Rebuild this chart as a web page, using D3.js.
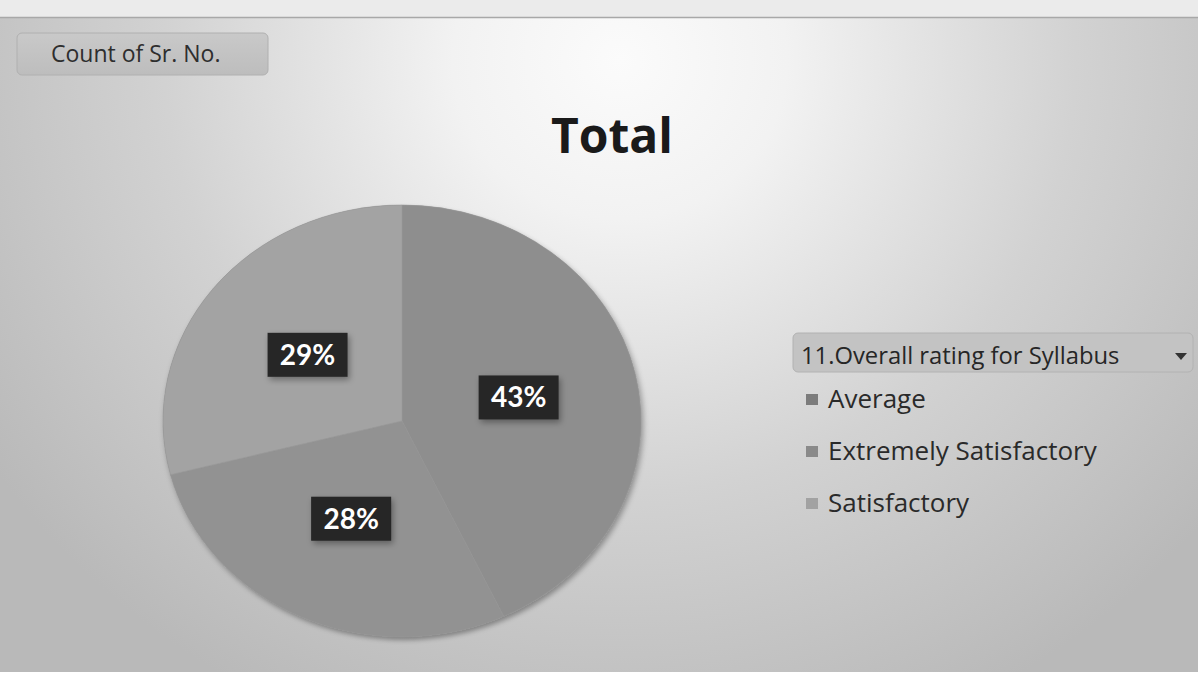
<!DOCTYPE html>
<html><head><meta charset="utf-8">
<script src="https://cdn.jsdelivr.net/npm/d3@7/dist/d3.min.js"></script>
<style>html,body{margin:0;padding:0;background:#fff;}svg{display:block;}</style>
</head><body>
<svg id="c" width="1198" height="682"></svg>
<script>
const categories = ["Average", "Extremely Satisfactory", "Satisfactory"];
const values = [43, 28, 29];
const sliceColors = ["#8e8e8e", "#929292", "#a3a3a3"];
const legendColors = ["#7c7c7c", "#8a8a8a", "#a2a2a2"];
const titleText = "Total";
const fieldButton = "Count of Sr. No.";
const legendTitle = "11.Overall rating for Syllabus";

const W = 1198, H = 682;
const FONT = "'Open Sans', Lato, sans-serif";
const svg = d3.select("#c");
const defs = svg.append("defs");

const bg = defs.append("radialGradient").attr("id","bg")
  .attr("gradientUnits","userSpaceOnUse")
  .attr("cx",620).attr("cy",60).attr("r",760)
  .attr("gradientTransform","translate(620,60) scale(1,0.95) translate(-620,-60)");
bg.append("stop").attr("offset","0%").attr("stop-color","#fbfbfb");
bg.append("stop").attr("offset","22%").attr("stop-color","#f2f2f2");
bg.append("stop").attr("offset","60%").attr("stop-color","#d2d2d2");
bg.append("stop").attr("offset","100%").attr("stop-color","#b9b9b9");

const btn = defs.append("linearGradient").attr("id","btn").attr("x1",0).attr("y1",0).attr("x2",0).attr("y2",1);
btn.append("stop").attr("offset","0%").attr("stop-color","#c9c9c9");
btn.append("stop").attr("offset","100%").attr("stop-color","#bdbdbd");

const sh = defs.append("filter").attr("id","sh").attr("x","-20%").attr("y","-20%").attr("width","140%").attr("height","140%");
sh.append("feGaussianBlur").attr("in","SourceAlpha").attr("stdDeviation",3);
sh.append("feOffset").attr("dx",2).attr("dy",3).attr("result","b");
sh.append("feComponentTransfer").append("feFuncA").attr("type","linear").attr("slope",0.35);
const m = sh.append("feMerge"); m.append("feMergeNode"); m.append("feMergeNode").attr("in","SourceGraphic");

svg.append("rect").attr("width",W).attr("height",H).attr("fill","#ffffff");
svg.append("rect").attr("x",0).attr("y",0).attr("width",W).attr("height",17).attr("fill","#ebebeb");
svg.append("rect").attr("x",0).attr("y",17).attr("width",W).attr("height",655).attr("fill","url(#bg)");
svg.append("line").attr("x1",0).attr("x2",W).attr("y1",17.5).attr("y2",17.5).attr("stroke","#a8a8a8").attr("stroke-width",1.5);

// Field button
svg.append("rect").attr("x",17).attr("y",33).attr("width",251).attr("height",42).attr("rx",5)
  .attr("fill","url(#btn)").attr("stroke","#b0b0b0");
svg.append("text").attr("x",51).attr("y",62).attr("font-family",FONT)
  .attr("font-size",23).attr("fill","#2e2e2e").text(fieldButton);

// Title
svg.append("text").attr("x",612).attr("y",153).attr("text-anchor","middle")
  .attr("font-family",FONT).attr("font-weight","bold")
  .attr("font-size",48).attr("fill","#1a1a1a").text(titleText);

// Pie
const cx = 402, cy = 421, rx = 239, ry = 216;
const pie = d3.pie().sort(null).value(d => d)(values);
const arc = d3.arc().innerRadius(0).outerRadius(rx);
const pg = svg.append("g").attr("transform",`translate(${cx},${cy}) scale(1,${ry/rx})`);
pg.append("ellipse").attr("rx",rx).attr("ry",rx).attr("fill","#888").attr("filter","url(#sh)");
pg.selectAll("path.s").data(pie).join("path").attr("class","s")
  .attr("d",arc).attr("fill",(d,i)=>sliceColors[i]).attr("stroke","#999").attr("stroke-width",0.6);

// Labels
const lg = svg.append("g").attr("transform",`translate(${cx},${cy})`);
const total = d3.sum(values);
pie.forEach((d,i)=>{
  const c = arc.centroid(d);
  const x = c[0], y = c[1]*ry/rx;
  const g = lg.append("g").attr("transform",`translate(${x},${y})`);
  g.append("rect").attr("x",-40).attr("y",-22).attr("width",80).attr("height",44)
    .attr("fill","#262626").attr("filter","url(#sh)");
  g.append("text").attr("text-anchor","middle").attr("y",10)
    .attr("font-family","Lato, 'Open Sans', sans-serif").attr("font-weight","bold")
    .attr("font-size",28).attr("fill","#ffffff")
    .text(Math.round(values[i]/total*100)+"%");
});

// Legend
svg.append("rect").attr("x",793).attr("y",333).attr("width",400).attr("height",39).attr("rx",5)
  .attr("fill","#c3c3c3").attr("stroke","#b2b2b2");
svg.append("text").attr("x",801).attr("y",364).attr("font-family",FONT)
  .attr("font-size",23.8).attr("fill","#262626").text(legendTitle);
svg.append("path").attr("d","M1175,353 L1187,353 L1181,360 Z").attr("fill","#333");

const legY = d3.scalePoint().domain(categories).range([408, 512]);
const li = svg.selectAll("g.li").data(categories).join("g").attr("class","li")
  .attr("transform",d=>`translate(806,${legY(d)})`);
li.append("rect").attr("x",0).attr("y",-14).attr("width",12).attr("height",11)
  .attr("fill",(d,i)=>legendColors[i]);
li.append("text").attr("x",22).attr("y",0).attr("font-family",FONT)
  .attr("font-size",26).attr("fill","#2a2a2a").text(d=>d);
</script>
</body></html>
